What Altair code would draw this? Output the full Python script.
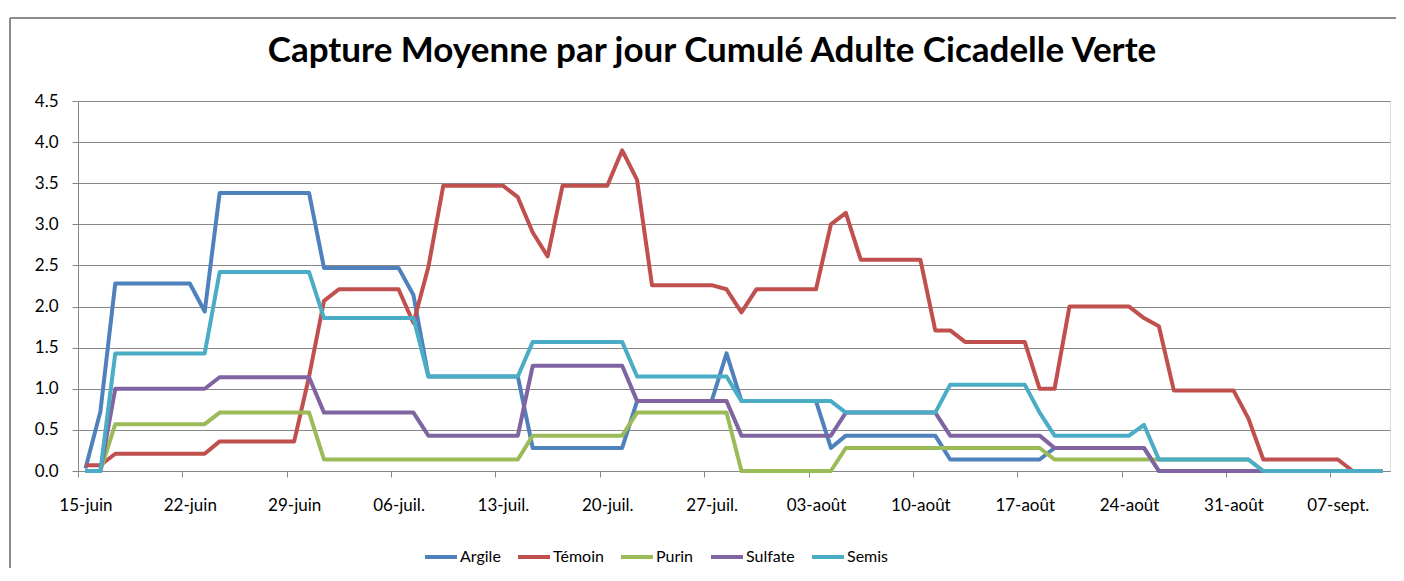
import json
import altair as alt
import pandas as pd

title_text = "Capture Moyenne par jour Cumulé Adulte Cicadelle Verte"
tick_labels = ["15-juin", "22-juin", "29-juin", "06-juil.", "13-juil.", "20-juil.",
               "27-juil.", "03-août", "10-août", "17-août", "24-août", "31-août", "07-sept."]
series_names = ["Argile", "Témoin", "Purin", "Sulfate", "Semis"]
series_colors = ["#4F81BD", "#C0504D", "#9BBB59", "#8064A2", "#4BACC6"]

# one value per day, from 15-juin (day 0) to 10-sept. (day 87)
argile = [0.03, 0.72, 2.28, 2.28, 2.28, 2.28, 2.28,
          2.28, 1.94, 3.38, 3.38, 3.38, 3.38, 3.38,
          3.38, 3.38, 2.47, 2.47, 2.47, 2.47, 2.47,
          2.47, 2.14, 1.15, 1.15, 1.15, 1.15, 1.15,
          1.15, 1.15, 0.28, 0.28, 0.28, 0.28, 0.28,
          0.28, 0.28, 0.85, 0.85, 0.85, 0.85, 0.85,
          0.85, 1.43, 0.85, 0.85, 0.85, 0.85, 0.85,
          0.85, 0.28, 0.43, 0.43, 0.43, 0.43, 0.43,
          0.43, 0.43, 0.14, 0.14, 0.14, 0.14, 0.14,
          0.14, 0.14, 0.28, 0.28, 0.28, 0.28, 0.28,
          0.28, 0.28, 0.0, 0.0, 0.0, 0.0, 0.0,
          0.0, 0.0, 0.0, 0.0, 0.0, 0.0, 0.0,
          0.0, 0.0, 0.0, 0.0]
temoin = [0.07, 0.07, 0.21, 0.21, 0.21, 0.21, 0.21,
          0.21, 0.21, 0.36, 0.36, 0.36, 0.36, 0.36,
          0.36, 1.15, 2.07, 2.21, 2.21, 2.21, 2.21,
          2.21, 1.80, 2.48, 3.47, 3.47, 3.47, 3.47,
          3.47, 3.33, 2.90, 2.61, 3.47, 3.47, 3.47,
          3.47, 3.90, 3.54, 2.26, 2.26, 2.26, 2.26,
          2.26, 2.21, 1.93, 2.21, 2.21, 2.21, 2.21,
          2.21, 3.00, 3.14, 2.57, 2.57, 2.57, 2.57,
          2.57, 1.71, 1.71, 1.57, 1.57, 1.57, 1.57,
          1.57, 1.00, 1.00, 2.00, 2.00, 2.00, 2.00,
          2.00, 1.86, 1.76, 0.98, 0.98, 0.98, 0.98,
          0.98, 0.64, 0.14, 0.14, 0.14, 0.14, 0.14,
          0.14, 0.0, 0.0, 0.0]
purin = [0.0, 0.0, 0.57, 0.57, 0.57, 0.57, 0.57,
         0.57, 0.57, 0.71, 0.71, 0.71, 0.71, 0.71,
         0.71, 0.71, 0.14, 0.14, 0.14, 0.14, 0.14,
         0.14, 0.14, 0.14, 0.14, 0.14, 0.14, 0.14,
         0.14, 0.14, 0.43, 0.43, 0.43, 0.43, 0.43,
         0.43, 0.43, 0.71, 0.71, 0.71, 0.71, 0.71,
         0.71, 0.71, 0.0, 0.0, 0.0, 0.0, 0.0,
         0.0, 0.0, 0.28, 0.28, 0.28, 0.28, 0.28,
         0.28, 0.28, 0.28, 0.28, 0.28, 0.28, 0.28,
         0.28, 0.28, 0.14, 0.14, 0.14, 0.14, 0.14,
         0.14, 0.14, 0.14, 0.14, 0.14, 0.14, 0.14,
         0.14, 0.14, 0.0, 0.0, 0.0, 0.0, 0.0,
         0.0, 0.0, 0.0, 0.0]
sulfate = [0.0, 0.0, 1.00, 1.00, 1.00, 1.00, 1.00,
           1.00, 1.00, 1.14, 1.14, 1.14, 1.14, 1.14,
           1.14, 1.14, 0.71, 0.71, 0.71, 0.71, 0.71,
           0.71, 0.71, 0.43, 0.43, 0.43, 0.43, 0.43,
           0.43, 0.43, 1.28, 1.28, 1.28, 1.28, 1.28,
           1.28, 1.28, 0.85, 0.85, 0.85, 0.85, 0.85,
           0.85, 0.85, 0.43, 0.43, 0.43, 0.43, 0.43,
           0.43, 0.43, 0.71, 0.71, 0.71, 0.71, 0.71,
           0.71, 0.71, 0.43, 0.43, 0.43, 0.43, 0.43,
           0.43, 0.43, 0.28, 0.28, 0.28, 0.28, 0.28,
           0.28, 0.28, 0.0, 0.0, 0.0, 0.0, 0.0,
           0.0, 0.0, 0.0, 0.0, 0.0, 0.0, 0.0,
           0.0, 0.0, 0.0, 0.0]
semis = [0.0, 0.0, 1.43, 1.43, 1.43, 1.43, 1.43,
         1.43, 1.43, 2.42, 2.42, 2.42, 2.42, 2.42,
         2.42, 2.42, 1.86, 1.86, 1.86, 1.86, 1.86,
         1.86, 1.86, 1.15, 1.15, 1.15, 1.15, 1.15,
         1.15, 1.15, 1.57, 1.57, 1.57, 1.57, 1.57,
         1.57, 1.57, 1.15, 1.15, 1.15, 1.15, 1.15,
         1.15, 1.15, 0.85, 0.85, 0.85, 0.85, 0.85,
         0.85, 0.85, 0.71, 0.71, 0.71, 0.71, 0.71,
         0.71, 0.71, 1.05, 1.05, 1.05, 1.05, 1.05,
         1.05, 0.71, 0.43, 0.43, 0.43, 0.43, 0.43,
         0.43, 0.56, 0.14, 0.14, 0.14, 0.14, 0.14,
         0.14, 0.14, 0.0, 0.0, 0.0, 0.0, 0.0,
         0.0, 0.0, 0.0, 0.0]

all_series = [argile, temoin, purin, sulfate, semis]
rows = []
for name, vals in zip(series_names, all_series):
    for d, v in enumerate(vals):
        rows.append({"jour": d, "valeur": v, "serie": name})
df = pd.DataFrame(rows)

n_days = len(argile)
tick_vals = [-0.5 + 7 * k for k in range(len(tick_labels))]
label_expr = json.dumps(tick_labels) + "[round((datum.value + 0.5) / 7)]"

FONT = "Lato"
GRID = "#878787"

x_enc = alt.X("jour:Q",
              scale=alt.Scale(domain=[-0.5, n_days - 0.5], nice=False, zero=False),
              axis=alt.Axis(values=tick_vals, labelExpr=label_expr, title=None, grid=False,
                            tickSize=6, labelPadding=20, labelOffset=7.45, labelFlush=False,
                            labelFontSize=17, labelFont=FONT, labelColor="#000000",
                            domainColor=GRID, tickColor=GRID, labelOverlap=False))
y_enc = alt.Y("valeur:Q",
              scale=alt.Scale(domain=[0, 4.5], nice=False),
              axis=alt.Axis(values=[0, 0.5, 1, 1.5, 2, 2.5, 3, 3.5, 4, 4.5], format=".1f",
                            title=None, tickSize=6, labelPadding=14, labelFontSize=17,
                            labelFont=FONT, labelColor="#000000", gridColor=GRID,
                            gridWidth=1, domainColor=GRID, tickColor=GRID))
color_enc = alt.Color("serie:N",
                      scale=alt.Scale(domain=series_names, range=series_colors),
                      legend=alt.Legend(title=None, orient="none", direction="horizontal",
                                        legendX=345, legendY=438, symbolType="stroke",
                                        symbolSize=1024, symbolStrokeWidth=4,
                                        labelFontSize=16, labelFont=FONT, labelOffset=1,
                                        columnPadding=9, padding=0, gridAlign="none",
                                        labelColor="#000000"))

layers = []
for name in series_names:
    layers.append(
        alt.Chart(df).transform_filter(alt.datum.serie == name)
        .mark_line(strokeWidth=4, strokeJoin="round")
        .encode(x=x_enc, y=y_enc, color=color_enc)
    )

frame_left = alt.Chart(df).mark_rule(color="#8c8c8c", strokeWidth=2).encode(
    x=alt.value(-68), y=alt.value(-83), y2=alt.value(480))
frame_top = alt.Chart(df).mark_rule(color="#8c8c8c", strokeWidth=2).encode(
    x=alt.value(-68), x2=alt.value(1318), y=alt.value(-83))

chart = alt.layer(frame_left, frame_top, *layers).properties(
    width=1312, height=370,
    autosize=alt.AutoSizeParams(type="none"),
    padding={"left": 70, "top": 93, "right": 6, "bottom": 97},
    title=alt.TitleParams(title_text, font=FONT, fontSize=35, fontWeight="bold",
                          anchor="middle", frame="group", baseline="alphabetic",
                          dx=-22, offset=-80, color="#000000"),
).configure_view(strokeWidth=0).configure(background="white")

chart.save("out.html", embed_options={"renderer": "svg", "actions": False})
